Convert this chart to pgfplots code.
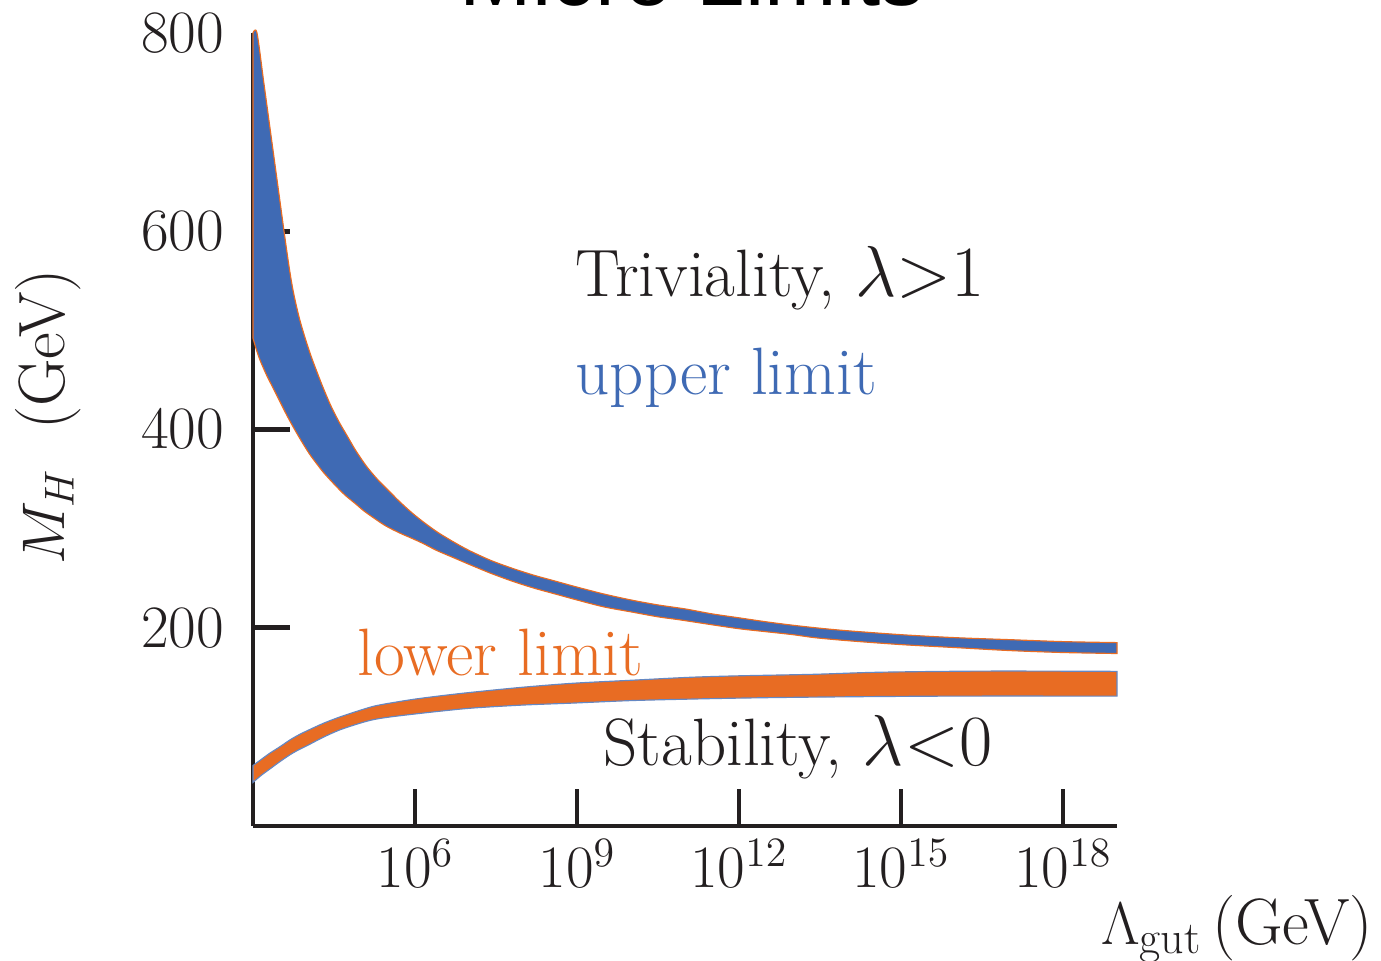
\documentclass[border=0pt]{standalone}
\usepackage{fontspec}
\usepackage{pgfplots}
\pgfplotsset{compat=1.18}
\usepgfplotslibrary{fillbetween}
\newfontfamily\titlefont{Liberation Sans}
\definecolor{bandblue}{RGB}{63,106,180}
\definecolor{bandorange}{RGB}{232,108,35}
\definecolor{axcol}{RGB}{35,31,32}
\newcommand{\fs}{\fontsize{20.7}{24.8}\selectfont}
\newcommand{\fa}{\fontsize{23.1}{27.7}\selectfont}
\newcommand{\fl}{\fontsize{22.6}{27}\selectfont}
\begin{document}
\begin{tikzpicture}
\begin{axis}[
  at={(0,0)}, anchor=south west,
  scale only axis, width=297.93pt, height=273.44pt,
  xmin=3, xmax=19, ymin=0, ymax=800,
  axis lines=left,
  axis line style={-, line width=1.7pt, color=axcol},
  tick align=inside, major tick length=12.8pt,
  tick style={line width=1.7pt, color=axcol},
  xtick={6,9,12,15,18},
  xticklabels={$10^{6}$,$10^{9}$,$10^{12}$,$10^{15}$,$10^{18}$},
  ytick={200,400,600},
  extra y ticks={800},
  extra y tick style={major tick length=0pt},
  ticklabel style={font=\fs, color=axcol},
  yticklabel style={xshift=-6.5pt},
  xticklabel style={yshift=-1pt},
  clip=false,
]
% upper limit band (triviality); x = log10 of Lambda_gut in GeV
\addplot[draw=none, smooth, name path=ut] coordinates {
(3,800)(3.074,800)(3.2,750)(3.3,710)(3.4,670)(3.5,630)(3.6,590)(3.68,560)(3.75,538)(3.85,514)(3.95,495)(4.05,478)(4.15,463)(4.3,442)(4.45,423)(4.6,407)(4.75,393)(4.9,379)(5.1,363)(5.3,350)(5.5,339)(5.7,328)(5.9,318)(6.1,309)(6.4,297)(6.7,287)(7.0,278)(7.4,268)(7.8,260)(8.2,253)(8.6,247)(9.0,241)(9.5,234)(10.0,228)(10.5,223)(11.0,219)(11.5,214)(12.0,210)(12.5,206)(13.0,202.5)(13.5,199.5)(14.0,197)(15.0,193)(16.0,190)(17.0,188)(18.0,186)(19.0,185)};
\addplot[draw=none, smooth, name path=ub] coordinates {
(3,492)(3.06,481)(3.13,470)(3.25,455)(3.38,441)(3.5,428)(3.62,415)(3.75,402)(3.9,388)(4.05,375)(4.2,364)(4.3,357)(4.5,345)(4.7,334)(4.9,325)(5.05,318)(5.23,311)(5.45,303)(5.7,296)(5.95,290)(6.15,285)(6.4,278)(6.7,271)(7.0,264)(7.4,255)(7.8,247)(8.2,240)(8.6,234)(9.0,228)(9.5,221)(10.0,216)(10.5,211)(10.9,208)(11.5,203)(12.0,199)(12.5,196)(13.0,193)(13.4,190)(14.0,187)(15.0,183)(16.0,180)(17.0,177)(18.0,175)(19.0,174)};
\addplot[fill=bandblue, draw=bandorange, line width=0.4pt] fill between[of=ut and ub];
% lower limit band (stability)
\addplot[draw=none, smooth, name path=lt] coordinates {
(3,61)(3.15,67)(3.3,73)(3.5,80)(3.69,87)(3.85,92)(4.0,96)(4.3,103.5)(4.61,110)(5.0,117)(5.25,121)(5.54,124)(6.0,128)(6.5,131.5)(7.07,135)(8.0,140)(8.93,144)(10,147)(11.09,150)(12,151.5)(13.37,153)(14.5,155)(15.85,156)(17,156.3)(19,156)};
\addplot[draw=none, smooth, name path=lb] coordinates {
(3,44)(3.15,51)(3.3,57)(3.5,65)(3.69,72)(3.85,77)(4.0,81)(4.3,89.5)(4.61,97)(5.0,104)(5.25,107.5)(5.54,110)(6.0,113)(6.5,116)(7.07,119)(8.0,122)(8.93,124)(10,126.5)(11.09,128)(12,129)(13.37,130)(15.85,131)(19,131)};
\addplot[fill=bandorange, draw=bandblue!80, line width=0.4pt] fill between[of=lt and lb];
% annotations
\node[font=\fa, anchor=base west, text=axcol, inner sep=0pt] at (rel axis cs:0.3727,0.6675) {Triviality, $\lambda{>}1$};
\node[font=\fa, anchor=base west, text=bandblue, inner sep=0pt] at (rel axis cs:0.3727,0.5435) {upper limit};
\node[font=\fa, anchor=base west, text=bandorange, inner sep=0pt] at (rel axis cs:0.1204,0.1904) {lower limit};
\node[font=\fa, anchor=base west, text=axcol, inner sep=0pt] at (rel axis cs:0.405,0.0769) {Stability, $\lambda{<}0$};
% axis labels
\node[font=\fl, anchor=base, text=axcol, inner sep=0pt] at (rel axis cs:1.139,-0.150) {$\Lambda_{\mathrm{gut}}\,$(GeV)};
\node[font=\fl, rotate=90, text=axcol, inner sep=0pt] at (rel axis cs:-0.237,0.516) {$M_H$\hspace{0.6em}(GeV)};
% title (cut off at top edge)
\node[font=\titlefont\fontsize{30}{36}\selectfont, anchor=base, inner sep=0pt] at (rel axis cs:0.508,1.0353) {Micro Limits};
\end{axis}
\pgfresetboundingbox
\useasboundingbox (-87.24pt,-46.55pt) rectangle (388.96pt,284.82pt);
\end{tikzpicture}
\end{document}
